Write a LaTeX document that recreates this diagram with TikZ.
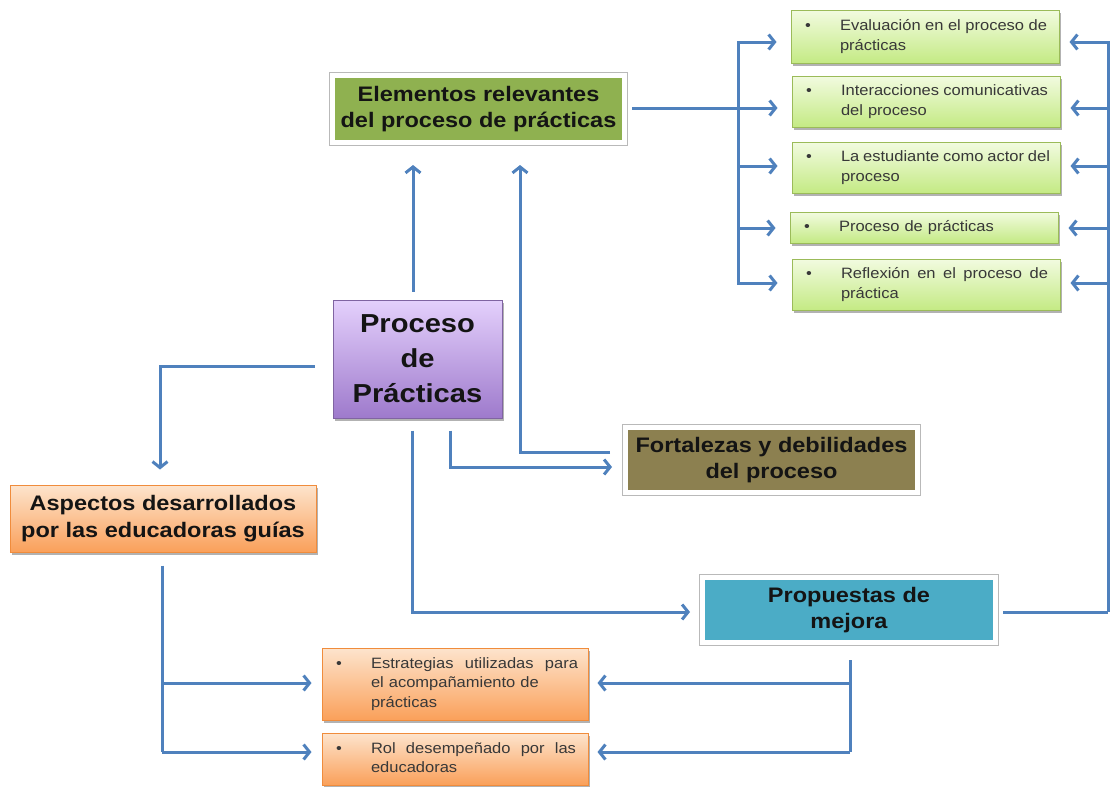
\documentclass[tikz,border=0pt]{standalone}
\usepackage{fontspec}
\setmainfont[FakeStretch=1.12]{Liberation Sans}
\newfontfamily\smallfam[FakeStretch=1.1]{Liberation Sans}
\usetikzlibrary{arrows.meta,shadows}
\definecolor{arrblue}{RGB}{79,129,189}
\definecolor{elemgreen}{RGB}{143,177,80}
\definecolor{olive}{RGB}{140,128,80}
\definecolor{teal}{RGB}{75,172,198}
\definecolor{purptop}{RGB}{228,208,252}
\definecolor{purpbot}{RGB}{158,122,204}
\definecolor{purpdraw}{RGB}{128,100,162}
\definecolor{lgtop}{RGB}{242,251,224}
\definecolor{lgbot}{RGB}{196,234,132}
\definecolor{lgdraw}{RGB}{155,187,89}
\definecolor{ortop}{RGB}{253,228,205}
\definecolor{orbot}{RGB}{250,160,90}
\definecolor{ordraw}{RGB}{240,140,60}
\newcommand\hdr{\fontsize{21}{26.5}\selectfont\bfseries}
\newcommand\sml{\smallfam\fontsize{15}{19.5}\selectfont}
\newcommand\js{\hskip 0.278em plus 1fil minus 0.15em}
\newcommand\bltwo[2]{\begin{tabular}{@{}p{35pt}@{}l@{}}\textbullet & #1\\ & #2\end{tabular}}
\newcommand\blone[1]{\begin{tabular}{@{}p{35pt}@{}l@{}}\textbullet & #1\end{tabular}}
\newcommand\blthree[3]{\begin{tabular}{@{}p{35pt}@{}l@{}}\textbullet & #1\\ & #2\\ & #3\end{tabular}}
\tikzset{
  shad/.style={drop shadow={shadow xshift=1.5pt, shadow yshift=-2.5pt, opacity=0.3, fill=black}},
  frame/.style={shad, preaction={draw=gray!55, line width=6.4pt}, draw=white, line width=5pt,
    font=\hdr, align=center, text=black!92, inner sep=0pt},
  gbox/.style={shad, draw=lgdraw, line width=1pt, top color=lgtop, bottom color=lgbot,
    font=\sml, text=black!78, align=left, text width=240pt, inner xsep=14pt, inner ysep=0pt},
  obox/.style={shad, draw=ordraw, line width=1pt, top color=ortop, bottom color=orbot,
    font=\sml, text=black!78, align=left, text width=238pt, inner xsep=14pt, inner ysep=0pt},
  arr/.style={draw=arrblue, line width=3pt, -{Straight Barb[length=6pt,width=15pt]}},
  conn/.style={draw=arrblue, line width=3pt}
}
\begin{document}
\begin{tikzpicture}[x=1pt,y=-1pt]
\useasboundingbox (0,0) rectangle (1111,787);

% main frame nodes
\node[frame, fill=elemgreen, minimum width=292pt, minimum height=67pt] (elem) at (478.5,109)
  {Elementos relevantes\\del proceso de prácticas};
\node[frame, fill=olive, minimum width=292pt, minimum height=65pt] (fort) at (771.5,460)
  {Fortalezas y debilidades\\del proceso};
\node[frame, fill=teal, minimum width=293pt, minimum height=65pt] (prop) at (849,610)
  {Propuestas de\\mejora};
\node[shad, draw=purpdraw, line width=1pt, top color=purptop, bottom color=purpbot,
  minimum width=169pt, minimum height=118pt, inner sep=0pt, align=center,
  font=\fontsize{26}{35}\selectfont\bfseries, text=black!92] (proc) at (417.5,359)
  {Proceso\\de\\Prácticas};
\node[shad, draw=ordraw, line width=1pt, top color=ortop, bottom color=orbot,
  minimum width=306pt, minimum height=67pt, inner sep=0pt, align=center,
  font=\hdr, text=black!92] (asp) at (163,518.5)
  {Aspectos desarrollados\\por las educadoras guías};

% green boxes
\node[gbox, minimum height=53pt] (g1) at (925,36.5)
  {\bltwo{\hbox to 207pt{Evaluación\js en\js el\js proceso\js de}}{prácticas}};
\node[gbox, minimum height=51pt] (g2) at (926,101.5)
  {\bltwo{\hbox to 207pt{Interacciones\js comunicativas}}{del proceso}};
\node[gbox, minimum height=51pt] (g3) at (926,167.5)
  {\bltwo{\hbox to 209pt{La\js estudiante\js como\js actor\js del}}{proceso}};
\node[gbox, minimum height=31pt] (g4) at (924,227.5)
  {\blone{Proceso de prácticas}};
\node[gbox, minimum height=51pt] (g5) at (926,284.5)
  {\bltwo{\hbox to 207pt{Reflexión\js en\js el\js proceso\js de}}{práctica}};

% orange boxes
\node[obox, minimum height=72pt] (est) at (455,684)
  {\blthree{\hbox to 207pt{Estrategias\js utilizadas\js para}}{el acompañamiento de}{prácticas}};
\node[obox, minimum height=52pt] (rol) at (455,759)
  {\bltwo{\hbox to 205pt{Rol\js desempeñado\js por\js las}}{educadoras}};

% connectors
\coordinate (xA) at (413,0);
\draw[arr, shorten <=8pt, shorten >=20pt] (proc.north -| xA) -- (elem.south -| xA);

\coordinate (bB) at (450,467);
\draw[arr, shorten <=12pt, shorten >=11pt] (proc.south -| bB) -- (bB) -- (bB -| fort.west);

\coordinate (cC) at (520,452);
\draw[arr, shorten <=13pt, shorten >=20pt] (fort.west |- cC) -- (cC) -- (cC |- elem.south);

\coordinate (bk) at (738,108);
\draw[conn, shorten <=5pt] (elem.east |- bk) -- (bk);
\draw[arr, shorten >=14pt] (bk) |- (g1.west |- 0,42);
\draw[arr, shorten >=14pt] (bk) |- (g2.west |- 0,108);
\draw[arr, shorten >=14pt] (bk) |- (g3.west |- 0,166);
\draw[arr, shorten >=14pt] (bk) |- (g4.west |- 0,228);
\draw[arr, shorten >=14pt] (bk) |- (g5.west |- 0,283);

\coordinate (rb) at (1108,612);
\draw[conn, shorten <=5pt] (prop.east |- rb) -- (rb);
\draw[arr, shorten >=10pt] (rb) |- (g1.east |- 0,42);
\draw[arr, shorten >=10pt] (rb) |- (g2.east |- 0,108);
\draw[arr, shorten >=10pt] (rb) |- (g3.east |- 0,166);
\draw[arr, shorten >=10pt] (rb) |- (g4.east |- 0,228);
\draw[arr, shorten >=10pt] (rb) |- (g5.east |- 0,283);

\coordinate (gG) at (160,366);
\draw[arr, shorten <=18pt, shorten >=15pt] (proc.west |- gG) -- (gG) -- (gG |- asp.north);

\coordinate (hH) at (412,612);
\draw[arr, shorten <=12pt, shorten >=10pt] (proc.south -| hH) -- (hH) -- (hH -| prop.west);

\coordinate (iM) at (162,683);
\coordinate (iB) at (162,752);
\draw[conn, shorten <=13pt] (asp.south -| iB) -- (iB);
\draw[arr, shorten >=10pt] (iM) -- (iM -| est.west);
\draw[arr, shorten >=10pt] (iB) -- (iB -| rol.west);

\coordinate (jM) at (850,683);
\coordinate (jB) at (850,752);
\draw[conn, shorten <=15pt] (prop.south -| jB) -- (jB);
\draw[arr, shorten >=9pt] (jM) -- (jM -| est.east);
\draw[arr, shorten >=9pt] (jB) -- (jB -| rol.east);
\end{tikzpicture}
\end{document}
